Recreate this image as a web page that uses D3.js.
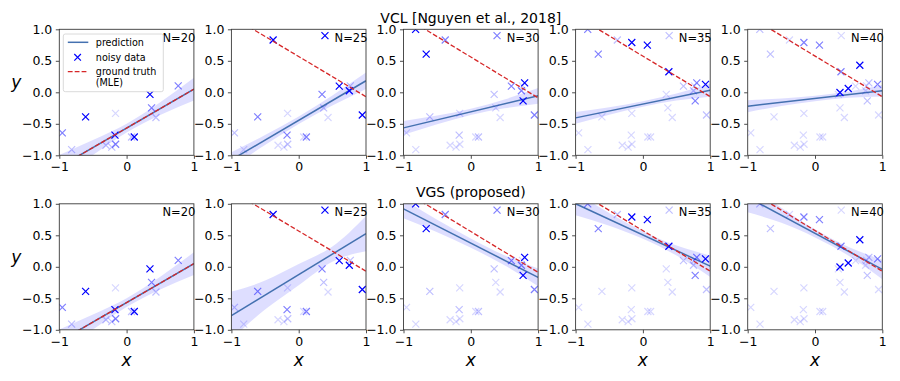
<!DOCTYPE html>
<html><head><meta charset="utf-8">
<script src="https://cdn.jsdelivr.net/npm/d3@7"></script>
<style>
html,body{margin:0;padding:0;background:#fff;}
text{font-family:"DejaVu Sans",sans-serif;}
</style></head>
<body><svg id="chart" width="900" height="381"></svg>
<script>
// ---------- data ----------
const panelN = [20, 25, 30, 35, 40];
const tasksShown = [4, 5, 6, 7, 8];
const rowTitles = ["VCL [Nguyen et al., 2018]", "VGS (proposed)"];
const xTicks = [-1, 0, 1];
const yTicks = [-1, -0.5, 0, 0.5, 1];

// noisy data, grouped by task (arrival order)
const taskX = [
  [-0.165],
  [-0.817, -0.307, -0.22, 0.436, 0.074],
  [-0.955, 0.371, 0.767, -0.163],
  [-0.609, 0.114, -0.173, 0.347],
  [-0.38, 0.39, 0.603, 0.752, 0.945],
  [-0.82, -0.663, 0.777, 0.80],
  [-0.165, 0.066, 0.386, 0.93],
  [0.371, 0.494, 0.666]
];
const taskY = [
  [-0.335],
  [-0.91, -0.84, -0.87, -0.40, -0.71],
  [-0.645, -0.247, 0.103, -0.825],
  [-0.39, -0.71, -0.68, -0.034],
  [0.83, 0.90, 0.098, 0.024, -0.36],
  [1.0, 0.607, -0.135, 0.15],
  [0.79, 0.75, 0.326, 0.125],
  [-0.003, 0.06, 0.43]
];

// ground truth (MLE) line: y at x=-1 and x=1
const gtAtLeft  = [-1.186, 1.206, 1.208, 1.217, 1.222];
const gtAtRight = [0.05, -0.07, -0.088, -0.069, -0.07];

// predictions: y at x=-1 and x=1
const vclPredLeft  = [-1.186, -1.071, -0.565, -0.406, -0.22];
const vclPredRight = [0.05, 0.183, -0.055, 0.034, 0.024];
const vgsPredLeft  = [-1.186, -0.774, 0.92, 1.0, 1.104];
const vgsPredRight = [0.05, 0.526, -0.168, 0.01, -0.042];

// uncertainty band sampled at bandX
const bandX = [-1, -0.5, 0, 0.5, 1];
const vclBandLo = [
  [-1.376, -0.997, -0.638, -0.359, -0.13],
  [-1.191, -0.838, -0.504, -0.211, 0.053],
  [-0.675, -0.508, -0.36, -0.253, -0.18],
  [-0.501, -0.356, -0.231, -0.131, -0.071],
  [-0.315, -0.219, -0.143, -0.087, -0.066]
];
const vclBandHi = [
  [-0.996, -0.757, -0.498, -0.159, 0.23],
  [-0.951, -0.678, -0.384, -0.051, 0.313],
  [-0.455, -0.368, -0.26, -0.113, 0.07],
  [-0.311, -0.236, -0.141, -0.021, 0.139],
  [-0.125, -0.099, -0.053, 0.013, 0.114]
];
const vgsBandLo = [
  [-1.376, -0.997, -0.638, -0.359, -0.13],
  [-1.154, -0.679, -0.294, 0.081, 0.246],
  [0.77, 0.548, 0.301, 0.024, -0.308],
  [0.82, 0.6525, 0.445, 0.1775, -0.16],
  [0.864, 0.6975, 0.466, 0.1745, -0.197]
];
const vgsBandHi = [
  [-0.996, -0.757, -0.498, -0.159, 0.23],
  [-0.394, -0.219, 0.046, 0.321, 0.806],
  [1.07, 0.748, 0.451, 0.184, -0.028],
  [1.18, 0.8525, 0.565, 0.3375, 0.18],
  [1.344, 0.9375, 0.596, 0.3145, 0.113]
];

// ---------- layout ----------
const svg = d3.select("#chart");
const panelW = 134.6, panelH = 126;
const lefts = panelN.map((_, i) => 59.3 + i * 172.1);
const tops = [29.3, 203.8];
const predColor = "#4471b0", gtColor = "#d62728", dataColor = "#0000ff", bandColor = "#0000ff";
const spineColor = "#3a3a3a";

const rows = [
  {predL: vclPredLeft, predR: vclPredRight, lo: vclBandLo, hi: vclBandHi},
  {predL: vgsPredLeft, predR: vgsPredRight, lo: vgsBandLo, hi: vgsBandHi}
];

const defs = svg.append("defs");

rows.forEach((row, r) => {
  panelN.forEach((N, i) => {
    const x = d3.scaleLinear().domain([-1, 1]).range([0, panelW]);
    const y = d3.scaleLinear().domain([-1, 1]).range([panelH, 0]);
    const g = svg.append("g").attr("transform", `translate(${lefts[i]},${tops[r]})`);
    const cid = `clip-${r}-${i}`;
    defs.append("clipPath").attr("id", cid).append("rect")
      .attr("x", 0).attr("y", 0).attr("width", panelW).attr("height", panelH);
    const pg = g.append("g").attr("clip-path", `url(#${cid})`);

    // band
    const bandData = bandX.map((bx, k) => ({x: bx, lo: row.lo[i][k], hi: row.hi[i][k]}));
    pg.append("path").datum(bandData)
      .attr("d", d3.area().x(d => x(d.x)).y0(d => y(d.lo)).y1(d => y(d.hi)).curve(d3.curveNatural))
      .attr("fill", bandColor).attr("fill-opacity", 0.13).attr("stroke", "none");

    // prediction
    pg.append("line")
      .attr("x1", x(-1)).attr("y1", y(row.predL[i]))
      .attr("x2", x(1)).attr("y2", y(row.predR[i]))
      .attr("stroke", predColor).attr("stroke-width", 1.5);

    // data
    const T = tasksShown[i];
    const pts = [];
    for (let k = 0; k < T; k++) {
      const a = Math.max(0.16, Math.pow(0.5, T - 1 - k));
      taskX[k].forEach((vx, j) => pts.push({x: vx, y: taskY[k][j], a}));
    }
    const s = 3.5;
    pg.selectAll("path.pt").data(pts).join("path").attr("class", "pt")
      .attr("d", d => `M${x(d.x) - s},${y(d.y) - s}L${x(d.x) + s},${y(d.y) + s}M${x(d.x) - s},${y(d.y) + s}L${x(d.x) + s},${y(d.y) - s}`)
      .attr("stroke", dataColor).attr("stroke-opacity", d => d.a).attr("stroke-width", 1.2).attr("fill", "none");

    // ground truth
    pg.append("line")
      .attr("x1", x(-1)).attr("y1", y(gtAtLeft[i]))
      .attr("x2", x(1)).attr("y2", y(gtAtRight[i]))
      .attr("stroke", gtColor).attr("stroke-width", 1.3).attr("stroke-dasharray", "4.8,2.1");

    // axes
    const ax = g.append("g").attr("transform", `translate(0,${panelH})`)
      .call(d3.axisBottom(x).tickValues(xTicks).tickFormat(d3.format("d")).tickSize(3.5).tickPadding(3.5));
    const ay = g.append("g")
      .call(d3.axisLeft(y).tickValues(yTicks).tickFormat(d3.format(".1f")).tickSize(3.5).tickPadding(3.5));
    [ax, ay].forEach(a => {
      a.select(".domain").remove();
      a.selectAll("line").attr("stroke", spineColor).attr("stroke-width", 0.9);
      a.selectAll("text").attr("font-size", 12.5).attr("font-family", "DejaVu Sans").attr("fill", "#000");
    });
    g.append("rect").attr("x", 0).attr("y", 0).attr("width", panelW).attr("height", panelH)
      .attr("fill", "none").attr("stroke", spineColor).attr("stroke-width", 0.9);

    // N label
    g.append("text").attr("x", panelW + 1.5).attr("y", 12.5).attr("text-anchor", "end")
      .attr("font-size", 11.5).text(`N=${N}`);

    if (r === 1) {
      g.append("text").attr("x", panelW / 2).attr("y", panelH + 36).attr("text-anchor", "middle")
        .attr("font-size", 17).attr("font-style", "italic").text("x");
    }
    if (i === 0) {
      g.append("text").attr("x", -43).attr("y", panelH / 2 - 4).attr("text-anchor", "middle")
        .attr("font-size", 17).attr("font-style", "italic").text("y");
    }
    if (i === 2) {
      g.append("text").attr("x", panelW / 2).attr("y", -6.5).attr("text-anchor", "middle")
        .attr("font-size", 14).text(rowTitles[r]);
    }

    // legend
    if (r === 0 && i === 0) {
      const lg = g.append("g").attr("transform", "translate(4,4.7)");
      lg.append("rect").attr("x", 0).attr("y", 0).attr("width", 100).attr("height", 57.7)
        .attr("rx", 2).attr("fill", "#fff").attr("fill-opacity", 0.8).attr("stroke", "#d0d0d0").attr("stroke-width", 0.8);
      lg.append("line").attr("x1", 4.5).attr("x2", 25).attr("y1", 8.3).attr("y2", 8.3)
        .attr("stroke", predColor).attr("stroke-width", 1.5);
      const mx = 14.3, my = 23.3, ms = 3.3;
      lg.append("path").attr("d", `M${mx - ms},${my - ms}L${mx + ms},${my + ms}M${mx - ms},${my + ms}L${mx + ms},${my - ms}`)
        .attr("stroke", dataColor).attr("stroke-width", 1.2);
      lg.append("line").attr("x1", 4.5).attr("x2", 25).attr("y1", 37.7).attr("y2", 37.7)
        .attr("stroke", gtColor).attr("stroke-width", 1.3).attr("stroke-dasharray", "4.8,2.1");
      const tx = 32.5;
      const items = [["prediction", 11.6], ["noisy data", 26.6], ["ground truth", 40.8], ["(MLE)", 52.3]];
      items.forEach(([t, yy]) => lg.append("text").attr("x", tx).attr("y", yy).attr("font-size", 9.6).text(t));
    }
  });
});
</script></body></html>
